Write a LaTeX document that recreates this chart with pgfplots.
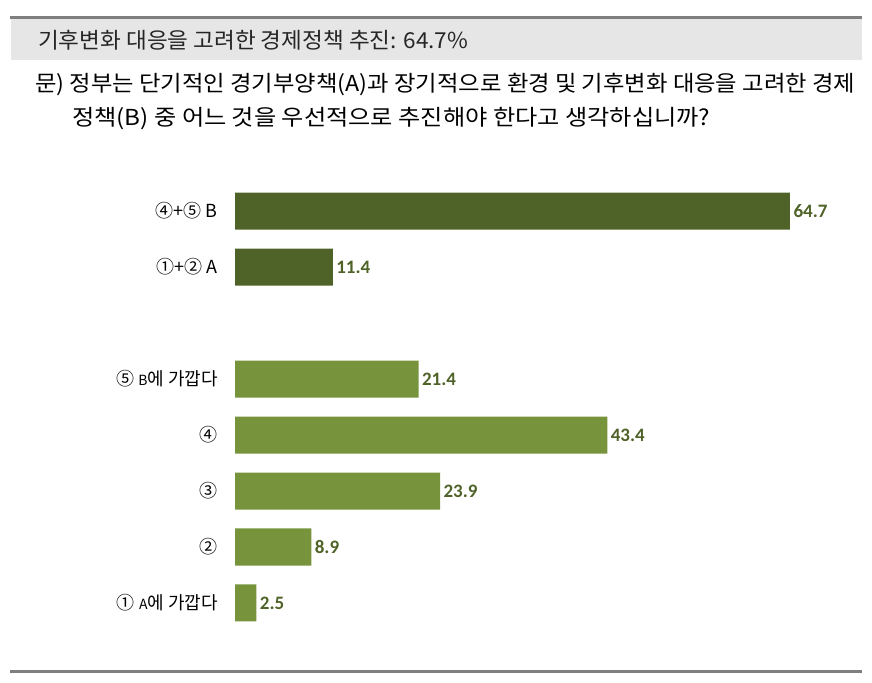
\documentclass[border=0pt]{standalone}
\usepackage{pgfplots}
\pgfplotsset{compat=1.18}
\usepackage{fontspec}
\setmainfont{Noto Sans CJK KR}
\newfontfamily\calfont{Carlito}
\usepackage{graphicx}
\definecolor{darkol}{HTML}{4F6228}
\definecolor{lightol}{HTML}{77933C}
\definecolor{band}{HTML}{E6E6E6}
\definecolor{rulec}{HTML}{7F7F7F}
\newcommand{\sm}[1]{{\fontsize{14bp}{14bp}\selectfont #1}}
\begin{document}
\begin{tikzpicture}
\path[use as bounding box] (0,0) rectangle (872bp,683bp);
\fill[band] (11bp,664bp) rectangle (862bp,623bp);
\draw[rulec, line width=3bp] (10bp,665.5bp) -- (862bp,665.5bp);
\draw[rulec, line width=3bp] (10bp,11.5bp) -- (862bp,11.5bp);
\node[anchor=base west, inner sep=0, text=black!85] at (38bp,634.5bp)
  {\resizebox{430bp}{\height}{\fontsize{22bp}{26bp}\selectfont 기후변화 대응을 고려한 경제정책 추진: 64.7\%}};
\node[anchor=base west, inner sep=0, text=black] at (35bp,591.5bp)
  {\resizebox{820bp}{\height}{\fontsize{22bp}{26bp}\selectfont 문) 정부는 단기적인 경기부양책(A)과 장기적으로 환경 및 기후변화 대응을 고려한 경제}};
\node[anchor=base west, inner sep=0, text=black] at (72bp,557.5bp)
  {\resizebox{638bp}{\height}{\fontsize{22bp}{26bp}\selectfont 정책(B) 중 어느 것을 우선적으로 추진해야 한다고 생각하십니까?}};
\begin{axis}[
  at={(235bp,40.8bp)}, anchor=south west,
  scale only axis, width=600.46bp, height=470.4bp,
  xmin=0, xmax=70, ymin=-0.7, ymax=7.7,
  clip=false,
  xbar, bar width=37bp, bar shift=0pt,
  hide x axis,
  y axis line style={draw=none},
  major tick length=0pt,
  ytick={0,1,2,3,4,6,7},
  yticklabels={{① \sm{A}에 가깝다},{②},{③},{④},{⑤ \sm{B}에 가깝다},{①+② A},{④+⑤ B}},
  yticklabel style={anchor=east, inner sep=0pt, xshift=-17bp, font=\fontsize{18bp}{20bp}\selectfont, text=black},
  point meta=x,
  nodes near coords,
  nodes near coords style={anchor=west, font=\calfont\bfseries\fontsize{19bp}{20bp}\selectfont, text=darkol,
    /pgf/number format/.cd, fixed, fixed zerofill, precision=1, assume math mode=true},
]
\addplot[fill=darkol, draw=none, bar shift=0pt] coordinates {(64.7,7) (11.4,6)};
\addplot[fill=lightol, draw=none, bar shift=0pt] coordinates {(21.4,4) (43.4,3) (23.9,2) (8.9,1) (2.5,0)};
\end{axis}
\end{tikzpicture}
\end{document}
